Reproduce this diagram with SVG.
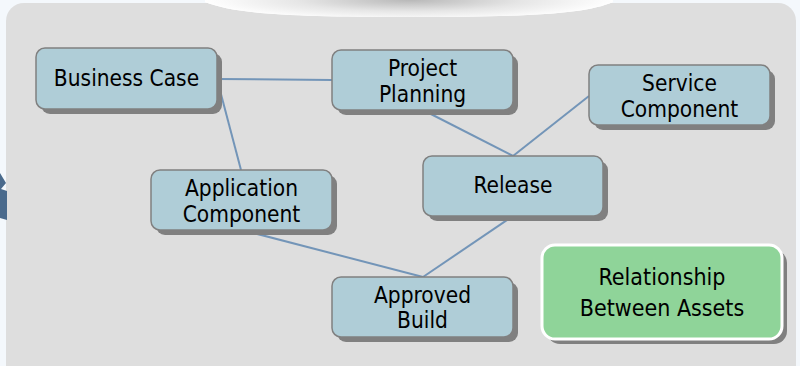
<svg xmlns="http://www.w3.org/2000/svg" width="800" height="366" viewBox="0 0 800 366">
<defs>
<radialGradient id="bulge" cx="410" cy="0" r="205" gradientUnits="userSpaceOnUse" gradientTransform="translate(410,0) scale(1,0.1) translate(-410,0)">
<stop offset="0" stop-color="#b8b8b8"/>
<stop offset="0.55" stop-color="#e6e6e6"/>
<stop offset="1" stop-color="#ffffff"/>
</radialGradient>
</defs>
<style>
.node rect.box{fill:#afcdd7;stroke:#808080;stroke-width:1.5}
.node rect.shadow{fill:#808080}
.node text, .legend text{font-family:"DejaVu Sans Condensed","DejaVu Sans",sans-serif;font-size:22.5px;fill:#000;text-anchor:middle}
.legend text{font-size:23px}
.conn line{stroke:#7395b8;stroke-width:2}
</style>
<rect x="0" y="0" width="800" height="366" fill="#f4f8fc"/>
<rect x="6" y="3" width="790" height="380" rx="18" fill="#dedede"/>
<path d="M205,2 C235,14 290,17 410,17 C530,17 585,14 613,2 L613,0 L205,0 Z" fill="#ffffff"/>
<path d="M205,2 C235,14 290,17 410,17 C530,17 585,14 613,2 L613,0 L205,0 Z" fill="url(#bulge)"/>
<polygon points="0,173 6,183 1,189 7,191 7,220 0,218" fill="#4a6a8c"/>
<g id="connectors" class="conn">
<line x1="217" y1="79" x2="332" y2="80"/>
<line x1="217" y1="79" x2="241" y2="170"/>
<line x1="423" y1="110" x2="513" y2="156"/>
<line x1="589" y1="96" x2="513" y2="156"/>
<line x1="242" y1="230" x2="423" y2="277"/>
<line x1="513" y1="216" x2="423" y2="277"/>
</g>
<g id="business-case" class="node">
<rect class="shadow" x="41" y="53" width="181" height="61" rx="9"/>
<rect class="box" x="36" y="48" width="181" height="61" rx="9"/>
<text x="126.5" y="86">Business Case</text>
</g>
<g id="project-planning" class="node">
<rect class="shadow" x="337" y="55" width="181" height="60" rx="9"/>
<rect class="box" x="332" y="50" width="181" height="60" rx="9"/>
<text x="422.5" y="76">Project</text>
<text x="422.5" y="102">Planning</text>
</g>
<g id="service-component" class="node">
<rect class="shadow" x="594" y="70" width="181" height="60" rx="9"/>
<rect class="box" x="589" y="65" width="181" height="60" rx="9"/>
<text x="679.5" y="91">Service</text>
<text x="679.5" y="117">Component</text>
</g>
<g id="application-component" class="node">
<rect class="shadow" x="156" y="175" width="181" height="60" rx="9"/>
<rect class="box" x="151" y="170" width="181" height="60" rx="9"/>
<text x="241.5" y="196">Application</text>
<text x="241.5" y="222">Component</text>
</g>
<g id="release" class="node">
<rect class="shadow" x="428" y="161" width="180" height="60" rx="9"/>
<rect class="box" x="423" y="156" width="180" height="60" rx="9"/>
<text x="513" y="193">Release</text>
</g>
<g id="approved-build" class="node">
<rect class="shadow" x="337" y="282" width="181" height="60" rx="9"/>
<rect class="box" x="332" y="277" width="181" height="60" rx="9"/>
<text x="422.5" y="303">Approved</text>
<text x="422.5" y="328">Build</text>
</g>
<g id="legend" class="legend">
<rect x="547" y="250" width="240" height="94" rx="13" fill="#808080"/>
<rect x="542" y="245" width="240" height="94" rx="13" fill="#8fd499" stroke="#ffffff" stroke-width="3"/>
<text x="662" y="285">Relationship</text>
<text x="662" y="316">Between Assets</text>
</g>
</svg>
